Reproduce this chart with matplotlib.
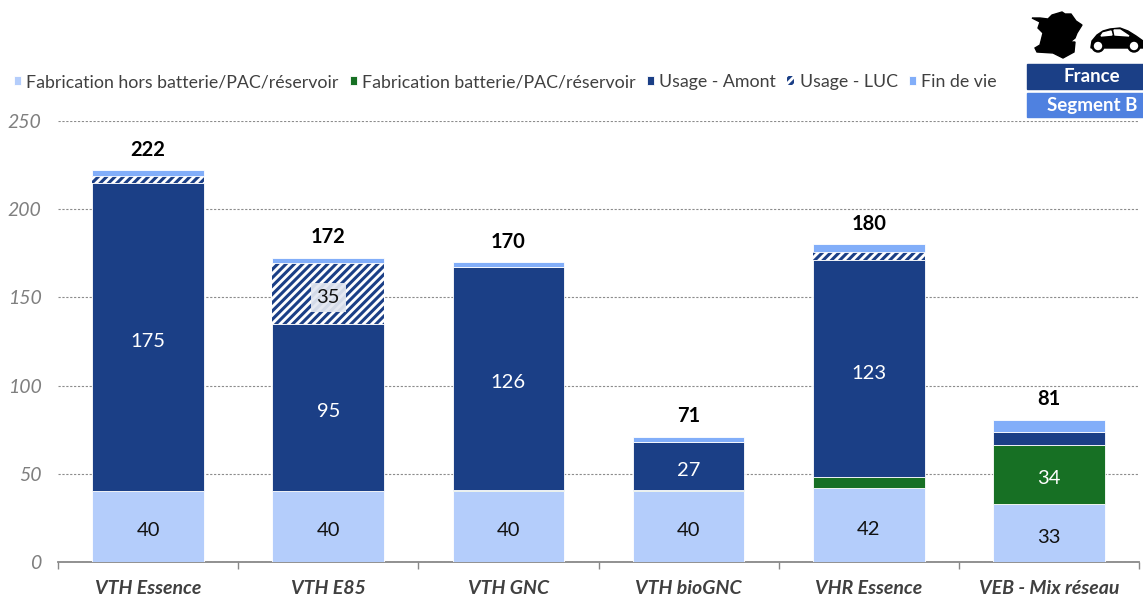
import matplotlib
matplotlib.use('Agg')
import matplotlib.pyplot as plt
from matplotlib.patches import Polygon, Rectangle, Circle
import numpy as np

plt.rcParams['font.family'] = ['Lato', 'DejaVu Sans']
plt.rcParams['hatch.linewidth'] = 2.2

W, H = 1143, 596

categories = ['VTH Essence', 'VTH E85', 'VTH GNC', 'VTH bioGNC', 'VHR Essence', 'VEB - Mix réseau']
fab_hors = [40, 40, 40, 40, 42, 33]
fab_batt = [0, 0, 1, 1, 6, 33.5]
usage_amont = [175, 95, 126, 27, 123, 7]
usage_luc = [4, 34.5, 0, 0, 5, 0]
fin_de_vie = [3, 3, 3, 3, 4, 7]
totals = [222, 172, 170, 71, 180, 81]
yticks = [0, 50, 100, 150, 200, 250]

# contour de la carte, en pixels
france_x = [1062, 1065, 1071, 1076, 1082, 1077, 1075, 1070, 1075, 1074, 1063, 1053, 1037, 1035, 1040, 1043, 1038, 1040, 1032, 1040, 1048, 1052]
france_y = [12, 14, 14, 21, 25, 33, 38, 42, 42, 52, 58, 53, 52, 48, 45, 33, 28, 22, 18, 18, 19, 15]
car_x = [1091, 1092, 1097, 1103, 1110, 1120, 1128, 1136, 1143, 1143, 1091]
car_y = [47, 41, 35, 31, 29, 28, 31, 36, 41, 48, 48]

series = [
    ('Fabrication hors batterie/PAC/réservoir', fab_hors, '#b4cdfb'),
    ('Fabrication batterie/PAC/réservoir', fab_batt, '#177024'),
    ('Usage - Amont', usage_amont, '#1b3f86'),
    ('Usage - LUC', usage_luc, 'hatch'),
    ('Fin de vie', fin_de_vie, '#82aef9'),
]

fig = plt.figure(figsize=(W / 100, H / 100), dpi=100)
ax = fig.add_axes([58 / W, 1 - 562 / H, (1139 - 58) / W, (562 - 121) / H])

x = np.arange(len(categories))
bottom = np.zeros(len(categories))
for name, vals, color in series:
    vals = np.array(vals, dtype=float)
    if color == 'hatch':
        ax.bar(x, vals, 0.62, bottom=bottom, facecolor='white', edgecolor='#1b3f86',
               hatch='////', linewidth=0, label=name, zorder=3)
    else:
        ax.bar(x, vals, 0.62, bottom=bottom, color=color, edgecolor='white',
               linewidth=0.6, label=name, zorder=3)
    for i, v in enumerate(vals):
        if v < 20:
            continue
        dark = color in ('#177024', '#1b3f86')
        kw = {}
        if color == 'hatch':
            kw['bbox'] = dict(facecolor='#e4e8f1', edgecolor='none', pad=4, alpha=0.92)
        ax.annotate(f'{np.ceil(v):.0f}', (i, bottom[i] + v / 2), xytext=(0, -3), textcoords='offset points',
                    ha='center', va='center', fontsize=14.5,
                    color='white' if dark else '#111111', zorder=5, **kw)
    bottom += vals

for i, t in enumerate(totals):
    ax.text(i, bottom[i] + 6, str(t), ha='center', va='bottom', fontsize=14.5,
            fontweight='bold', color='black', zorder=5)

ax.set_xlim(-0.5, 5.5)
ax.set_ylim(0, 250)
ax.set_yticks(yticks)
ax.set_yticklabels(yticks, fontsize=14, style='italic', color='#7f7f7f')
ax.set_xticks(np.arange(-0.5, 6, 1))
ax.set_xticklabels([])
ax.tick_params(axis='y', length=0, pad=12)
ax.tick_params(axis='x', length=5, color='#888888', width=1, direction='out')
for i, c in enumerate(categories):
    ax.text(i, -10, c, ha='center', va='top', fontsize=14, fontweight='bold', style='italic',
            color='#404040', clip_on=False)
ax.grid(axis='y', color='#8c8c8c', linestyle=(0, (2, 1.5)), linewidth=0.8, zorder=0)
ax.set_axisbelow(True)
for s in ['top', 'right', 'left']:
    ax.spines[s].set_visible(False)
ax.spines['bottom'].set_color('#888888')
ax.spines['bottom'].set_linewidth(1.3)

fig.legend(loc='center left', bbox_to_anchor=(14 / W, 1 - 82 / H), ncol=5, frameon=False,
           fontsize=12.8, handlelength=0.4, handleheight=0.4, handletextpad=0.3,
           columnspacing=0.62, labelcolor='#404040', borderpad=0, borderaxespad=0)

# bandeaux et pictos en haut a droite
overlay = fig.add_axes([0, 0, 1, 1], facecolor='none')
overlay.set_xlim(0, W)
overlay.set_ylim(H, 0)
overlay.axis('off')
overlay.add_patch(Rectangle((1027, 64), 116, 25, color='#1b3f86'))
overlay.add_patch(Rectangle((1027, 93), 116, 24, color='#4f81e0'))
overlay.text(1092, 76, 'France', ha='center', va='center', color='white', fontsize=13.5, fontweight='bold')
overlay.text(1092, 105.5, 'Segment B', ha='center', va='center', color='white', fontsize=13.5, fontweight='bold')

overlay.add_patch(Polygon(np.column_stack([france_x, france_y]), color='black'))
overlay.add_patch(Polygon(np.column_stack([car_x, car_y]), color='black'))
overlay.add_patch(Polygon([[1103, 33], [1111, 31], [1112, 35], [1101, 36]], color='white'))
overlay.add_patch(Polygon([[1114, 30], [1120, 30], [1129, 36], [1115, 35]], color='white'))
for cx in (1098, 1134):
    overlay.add_patch(Circle((cx, 46), 6, color='black'))
    overlay.add_patch(Circle((cx, 46), 3.5, color='white'))

fig.savefig('out.png', dpi=100, facecolor='white')
